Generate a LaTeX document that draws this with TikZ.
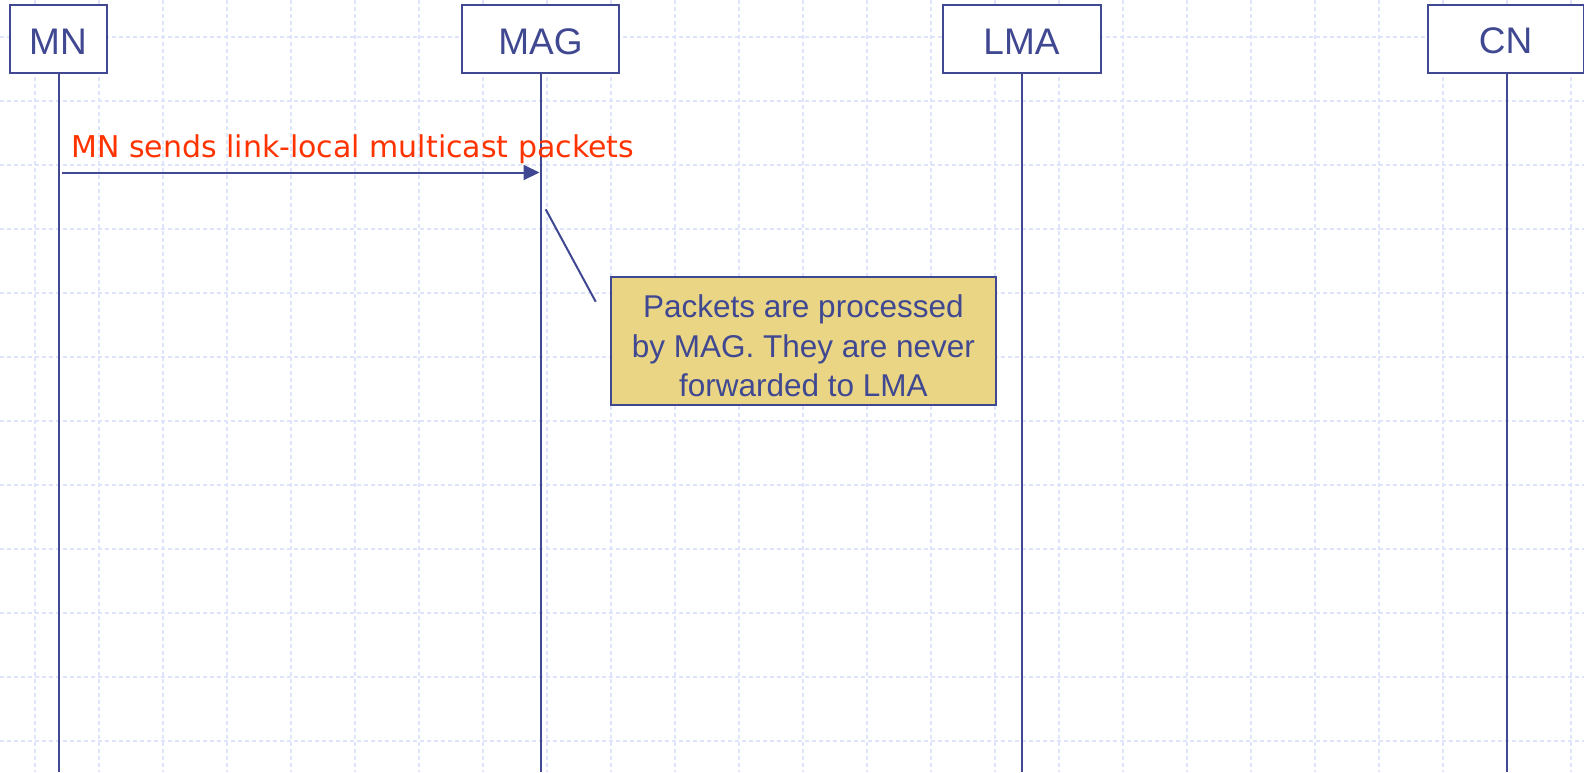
\documentclass[tikz,border=0pt]{standalone}
\usepackage{fontspec}
\setmainfont{Liberation Sans}
\newfontfamily\msgfont{DejaVu Sans}
\usetikzlibrary{arrows.meta}
\definecolor{ink}{HTML}{3F4891}
\definecolor{gridc}{HTML}{DDE4FB}
\definecolor{notefill}{HTML}{EAD585}
\definecolor{msgred}{HTML}{FF3300}
\tikzset{
  entity/.style={draw=ink, line width=2pt, fill=white, text=ink, font=\fontsize{37}{40}\selectfont,
    minimum height=68pt, inner sep=0pt, text height=30.6pt, text depth=0pt},
  lifeline/.style={draw=ink, line width=2pt},
  gridline/.style={draw=gridc, line width=1.6pt, dash pattern=on 4pt off 3pt},
  msg/.style={draw=ink, line width=2pt, -{Triangle[length=16pt,width=15pt]}},
  notebox/.style={draw=ink, line width=2pt, fill=notefill, minimum width=385pt, minimum height=128pt, inner sep=0pt},
  notetext/.style={text=ink, align=center, font=\fontsize{31.5}{39.5}\selectfont, inner sep=0pt},
  msglabel/.style={text=msgred, font=\msgfont\fontsize{30}{34}\selectfont, anchor=base west, inner sep=0pt}
}
\begin{document}
\begin{tikzpicture}[x=1pt,y=-1pt]
  \useasboundingbox (0,0) rectangle (1584,772);
  \fill[white] (0,0) rectangle (1584,772);
  % background grid
  \foreach \gx in {0,...,24} \draw[gridline] (35+64*\gx,0) -- (35+64*\gx,772);
  \foreach \gy in {0,...,11} \draw[gridline] (0,36.7+64*\gy) -- (1584,36.7+64*\gy);

  % lifelines
  \coordinate (mnEnd) at (59,772);
  \coordinate (magEnd) at (541,772);
  \coordinate (lmaEnd) at (1021.5,772);
  \coordinate (cnEnd) at (1507,772);
  \draw[lifeline] (59,39) -- (mnEnd);
  \draw[lifeline] (541,39) -- (magEnd);
  \draw[lifeline] (1021.5,39) -- (lmaEnd);
  \draw[lifeline] (1507,39) -- (cnEnd);

  % entity boxes
  \node[entity, minimum width=97pt] (mn) at (58,39) {MN};
  \node[entity, minimum width=157pt] (mag) at (540.5,39) {MAG};
  \node[entity, minimum width=158pt] (lma) at (1021.5,39) {LMA};
  \node[entity, minimum width=156pt] (cn) at (1505.5,38.5) {CN};

  % message
  \coordinate (msgStart) at (62,172.5);
  \coordinate (msgEnd) at (539.5,172.5);
  \draw[msg] (msgStart) -- (msgEnd);
  \node[msglabel] (msgtext) at (71,157) {MN sends link-local multicast packets};

  % note
  \node[notebox] (remark) at (803.4,340.9) {};
  \node[notetext] (remarktext) at ([yshift=-5pt]remark.center) {Packets are processed\\by MAG. They are never\\forwarded to LMA};
  \coordinate (pinA) at (545.7,209.3);
  \coordinate (pinB) at (595.7,301.7);
  \draw[lifeline] (pinA) -- (pinB);
\end{tikzpicture}
\end{document}
